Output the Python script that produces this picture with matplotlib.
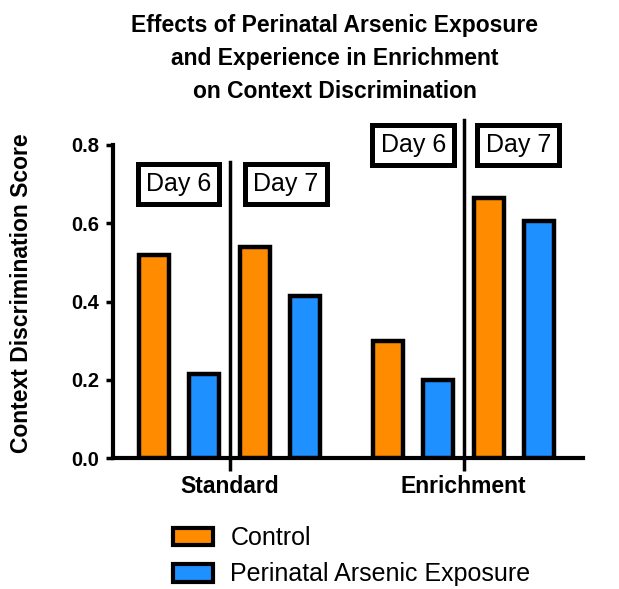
import matplotlib
matplotlib.use("Agg")
import matplotlib.pyplot as plt
from matplotlib.patches import Patch

plt.rcParams['font.family'] = ['Liberation Sans', 'DejaVu Sans']

groups = ["Standard", "Enrichment"]
control_day6 = [0.52, 0.30]
arsenic_day6 = [0.215, 0.20]
control_day7 = [0.54, 0.665]
arsenic_day7 = [0.415, 0.605]
yticks = [0.0, 0.2, 0.4, 0.6, 0.8]

orange = "#FF8C00"
blue = "#1E90FF"

fig = plt.figure(figsize=(6.19, 5.89), dpi=100)
ax = fig.add_axes([113/619, 1-458/589, 470/619, 313/589])

w = 0.128
offs = [-0.323, -0.109, 0.109, 0.323]
series = [(control_day6, orange), (arsenic_day6, blue), (control_day7, orange), (arsenic_day7, blue)]
for off, (vals, col) in zip(offs, series):
    for g, v in enumerate(vals):
        ax.bar(g + off, v, width=w, color=col, edgecolor="black", linewidth=3.2, zorder=3)

ax.set_xlim(-0.5, 1.51)
ax.set_ylim(0, 0.8)
ax.set_yticks(yticks)
ax.set_yticklabels([f"{t:.1f}" for t in yticks], fontsize=14.5, fontweight="bold")
ax.set_xticks([0, 1])
ax.set_xticklabels(groups, fontsize=16.5, fontweight="bold")
ax.tick_params(axis="y", direction="out", length=5, width=2.5, pad=5)
ax.tick_params(axis="x", direction="out", length=9, width=2.5, pad=3)
for s in ["top", "right"]:
    ax.spines[s].set_visible(False)
for s in ["left", "bottom"]:
    ax.spines[s].set_linewidth(3)
ax.set_ylabel("Context Discrimination Score", fontsize=16.5, fontweight="bold")
ax.yaxis.set_label_coords(-0.170, 0.527)

# divider lines
ax.plot([0, 0], [0, 0.757], color="black", lw=2.5, clip_on=False, zorder=4)
ax.plot([1, 1], [0, 0.864], color="black", lw=2.5, clip_on=False, zorder=4)

box = dict(boxstyle="square,pad=0.33", facecolor="white", edgecolor="black", linewidth=3.6)
for x, y, t in [(-0.22, 0.70, "Day 6"), (0.24, 0.70, "Day 7"), (0.784, 0.80, "Day 6"), (1.233, 0.80, "Day 7")]:
    ax.text(x, y, t, ha="center", va="center", fontsize=18, bbox=box, clip_on=False, zorder=5)

fig.text(0.541, 1-14/589, "Effects of Perinatal Arsenic Exposure\nand Experience in Enrichment\non Context Discrimination",
         ha="center", va="top", fontsize=16.5, fontweight="bold", linespacing=1.55)

handles = [Patch(facecolor=orange, edgecolor="black", linewidth=3),
           Patch(facecolor=blue, edgecolor="black", linewidth=3)]
fig.legend(handles, ["Control", "Perinatal Arsenic Exposure"], loc="upper left",
           bbox_to_anchor=(173/619, 1-526/589), frameon=False, fontsize=18,
           borderpad=0, borderaxespad=0,
           handlelength=1.6, handleheight=0.7, handletextpad=0.7, labelspacing=0.5)

fig.savefig("out.png", dpi=100)
